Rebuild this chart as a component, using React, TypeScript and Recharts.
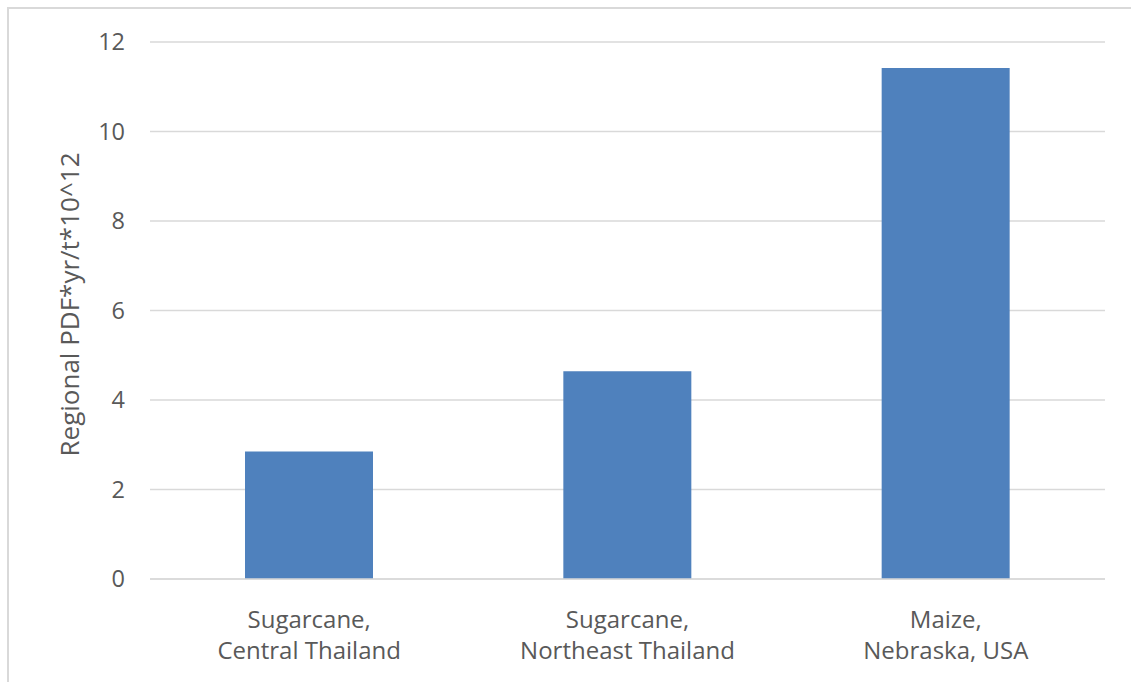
import { Bar, BarChart, CartesianGrid, Label, XAxis, YAxis } from 'recharts'

const categories = ['Sugarcane,\nCentral Thailand', 'Sugarcane,\nNortheast Thailand', 'Maize,\nNebraska, USA']
const pdfValues = [2.85, 4.64, 11.42]
const yTicks = [0, 2, 4, 6, 8, 10, 12]
const yTitle = 'Regional PDF*yr/t*10^12'

const data = categories.map((name, i) => ({ name, value: pdfValues[i] }))

const FONT = "'Open Sans', 'Noto Sans', sans-serif"
const TEXT = '#595959'
const GRID = '#d9d9d9'

// two-line category labels, split on the newline
const CategoryTick = ({ x, y, payload }) => {
	const lines = String(payload.value).split('\n')
	return (
		<text x={x} y={y} textAnchor='middle' fill={TEXT} fontSize={24} fontFamily={FONT}>
			{lines.map((line, i) => (
				<tspan key={i} x={x} dy={i === 0 ? 41 : 31}>{line}</tspan>
			))}
		</text>
	)
}

const AxisTitle = ({ viewBox }) => {
	const cx = viewBox.x + 69
	const cy = viewBox.y + viewBox.height / 2 - 6
	return (
		<text x={cx} y={cy} transform={`rotate(-90, ${cx}, ${cy})`} textAnchor='middle'
					dominantBaseline='central' fill={TEXT} fontSize={26} fontFamily={FONT}>
			{yTitle}
		</text>
	)
}

export default function App() {
	return (
		<div style={{ position: 'absolute', left: 0, top: 0, width: 1131, height: 682, background: '#fff' }}>
			<div style={{
				position: 'absolute', left: 7, top: 7, right: 0, bottom: 0,
				borderLeft: `2px solid ${GRID}`, borderTop: `2px solid ${GRID}`
			}} />
			<BarChart width={1131} height={682} data={data} barSize={128}
								margin={{ top: 42, right: 26, bottom: 0, left: 0 }}
								style={{ position: 'absolute', left: 0, top: 0 }}>
				<CartesianGrid vertical={false} stroke={GRID} strokeWidth={1.5} />
				<XAxis dataKey='name' height={103} interval={0} tickLine={false}
							 axisLine={{ stroke: GRID, strokeWidth: 1.5 }} tick={<CategoryTick />} />
				<YAxis width={150} domain={[0, 12]} ticks={yTicks} axisLine={false} tickLine={false}
							 tickSize={0} tickMargin={25} tick={{ fill: TEXT, fontSize: 23.5, fontFamily: FONT }}>
					<Label content={<AxisTitle />} />
				</YAxis>
				<Bar dataKey='value' fill='#4f81bd' isAnimationActive={false} />
			</BarChart>
		</div>
	)
}
